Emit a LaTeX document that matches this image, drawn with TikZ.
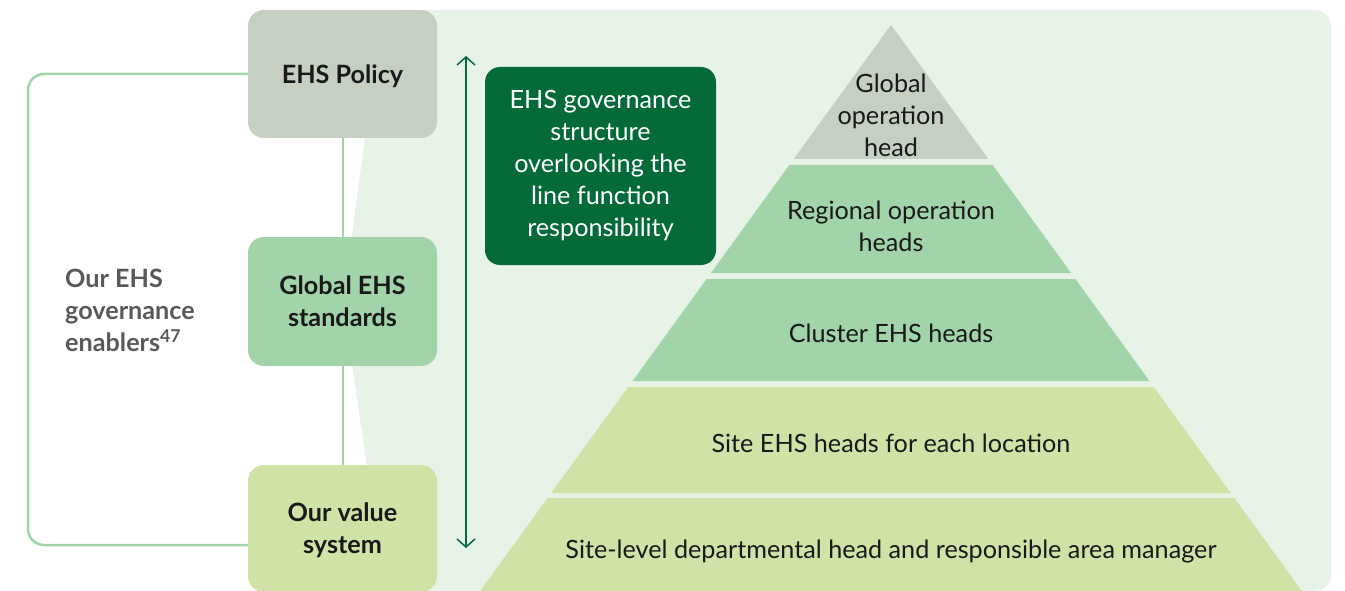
\documentclass[tikz,border=0pt]{standalone}
\usepackage{fontspec}
\setmainfont{Lato}
\usetikzlibrary{arrows.meta}

\definecolor{bgfill}{HTML}{E8F3E8}
\definecolor{topgray}{HTML}{C5D0C3}
\definecolor{midgreen}{HTML}{A1D4A9}
\definecolor{litegreen}{HTML}{D0E3A7}
\definecolor{darkgreen}{HTML}{046A38}
\definecolor{labelgray}{HTML}{58595B}

\newcommand{\labfont}{\fontsize{25.2}{32}\selectfont}

\tikzset{
  enabler/.style={rectangle, rounded corners=16pt, minimum width=189pt, inner sep=0pt,
    text depth=0pt, align=center, font=\bfseries\labfont, text=black!90},
  tier/.style={align=center, font=\labfont, text=black!90},
  link/.style={draw=midgreen, line width=2pt},
}

\begin{document}
\begin{tikzpicture}[x=1pt, y=-1pt, >={Straight Barb[length=8pt,width=18pt]}]
%% 1 unit = 1 px of the 1345 x 591 layout, y grows downwards
%% Pyramid: apex (891,25), half width = 0.726 * (y - 25)
\useasboundingbox (0,0) rectangle (1345,591);

%% ---- Background panel ----
\fill[bgfill, rounded corners=16pt] (382,10) -- (343,302) -- (385,591)
  -- (1331,591) -- (1331,10) -- cycle;

%% ---- Pyramid tiers ----
\foreach \yt/\yb/\col in {25/159/topgray, 165/273/midgreen, 279/381/midgreen,
                          387/493/litegreen, 498/591/litegreen} {
  \fill[\col] ({891-0.726*(\yt-25)},\yt) -- ({891+0.726*(\yt-25)},\yt)
    -- ({891+0.726*(\yb-25)},\yb) -- ({891-0.726*(\yb-25)},\yb) -- cycle;
}

\node[tier] (tier1) at (891,115) {Global\\operation\\head};
\node[tier] (tier2) at (891,226) {Regional operation\\heads};
\node[tier] (tier3) at (891,333) {Cluster EHS heads};
\node[tier] (tier4) at (891,443) {Site EHS heads for each location};
\node[tier] (tier5) at (891,552) {Site-level departmental head and responsible area manager};

%% ---- Enabler boxes ----
\node[enabler, fill=topgray,   minimum height=128pt] (policy)    at (342.5,74)    {EHS Policy};
\node[enabler, fill=midgreen,  minimum height=129pt] (standards) at (342.5,301.5) {Global EHS\\standards};
\node[enabler, fill=litegreen, minimum height=127pt] (values)    at (342.5,528.5) {Our value\\system};

\draw[link] (policy) -- (standards);
\draw[link] (standards) -- (values);

%% ---- Bracket + label ----
\coordinate (brk) at (28,545);
\draw[link, line width=2.5pt, rounded corners=16pt] (policy.west) -| (brk) -- (values.west |- brk);

\node[anchor=west, align=left, inner sep=0pt, font=\bfseries\labfont, text=labelgray]
  (enablers) at (65,310) {Our EHS\\governance\\enablers\textsuperscript{47}};

%% ---- Structure box + arrow ----
\node[rectangle, rounded corners=15pt, fill=darkgreen, minimum width=231pt, minimum height=198pt,
  inner sep=0pt, text=white, align=center, font=\labfont]
  (structure) at (600.5,166) {EHS governance\\structure\\overlooking the\\line function\\responsibility};

\coordinate (arrtop) at (466,56);
\coordinate (arrbot) at (466,548);
\draw[<->, darkgreen, line width=1.5pt] (arrtop) -- (arrbot);
\end{tikzpicture}
\end{document}
